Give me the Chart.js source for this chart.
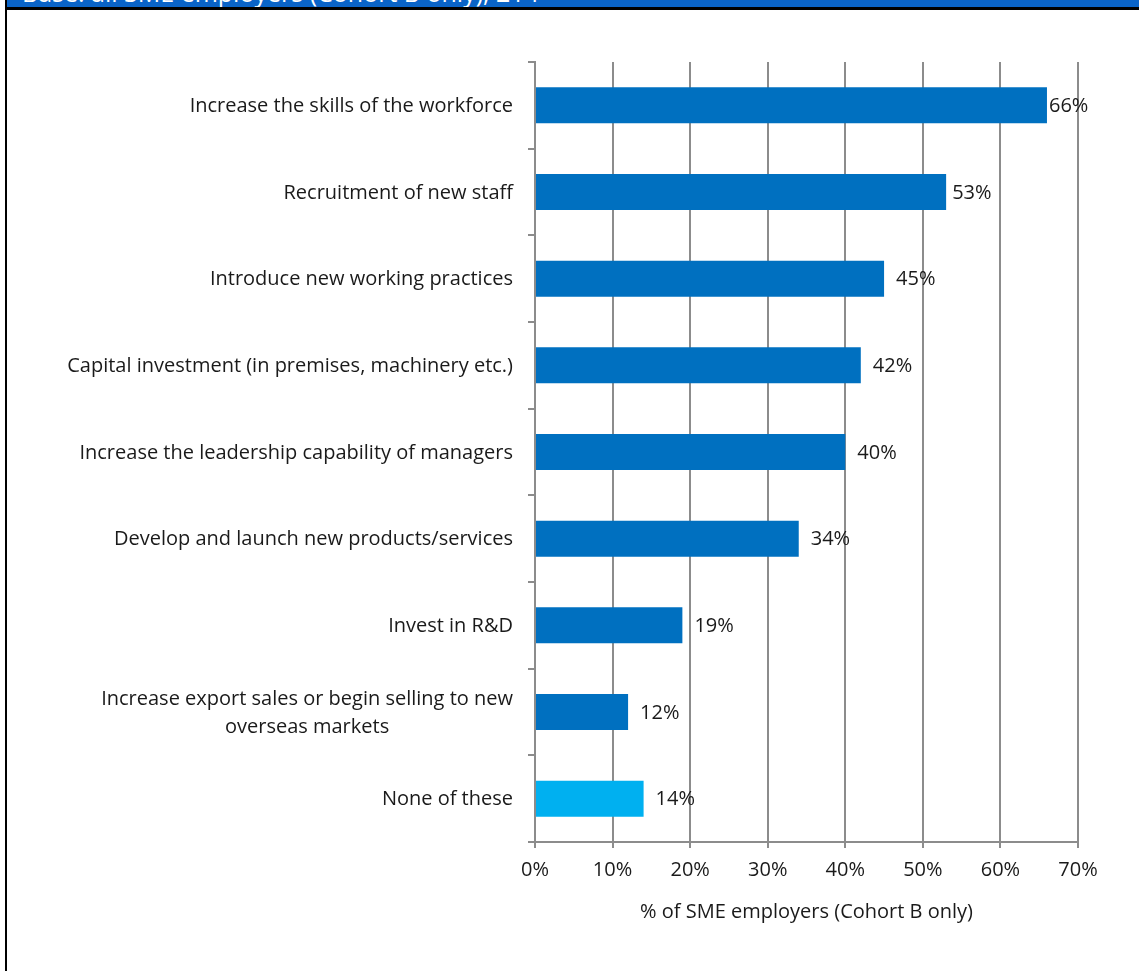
<!DOCTYPE html>
<html lang="en">
<head>
  <meta charset="UTF-8">
  <title>SME employers (Cohort B only) - planned actions</title>
  <script src="https://cdn.jsdelivr.net/npm/chart.js@4.4.0/dist/chart.umd.min.js"></script>
  <style>
    html, body { margin: 0; padding: 0; background: #fff; }
    #page { position: absolute; left: 0; top: 0; width: 1139px; height: 971px; overflow: hidden; }
    #banner { position: absolute; left: 5px; top: 0; right: 0; height: 7px; background: #0a64c8;
              border-bottom: 3px solid #000; overflow: hidden; }
    #banner span { position: absolute; left: 17px; top: -20px; font: 25px "Open Sans", sans-serif;
                   line-height: 25px; color: #fff; white-space: nowrap; }
    #rule { position: absolute; left: 5px; top: 0; width: 2px; height: 971px; background: #000; }
    #myChart { position: absolute; left: 0; top: 0; }
  </style>
</head>
<body>
<div id="page">
  <canvas id="myChart" width="1139" height="971"></canvas>
  <div id="banner"><span>Base: all SME employers (Cohort B only), 214</span></div>
  <div id="rule"></div>
</div>

<script>
const categories = [
  'Increase the skills of the workforce',
  'Recruitment of new staff',
  'Introduce new working practices',
  'Capital investment (in premises, machinery etc.)',
  'Increase the leadership capability of managers',
  'Develop and launch new products/services',
  'Invest in R&D',
  ['Increase export sales or begin selling to new', 'overseas markets'],
  'None of these'
];
const shares = [66, 53, 45, 42, 40, 34, 19, 12, 14];
const xTickLabels = ['0%', '10%', '20%', '30%', '40%', '50%', '60%', '70%'];
const xTitle = '% of SME employers (Cohort B only)';

const dark = '#0070c0';
const light = '#00b0f0';
const gray = '#8c8c8c';
const textColor = '#1a1a1a';
const fontFamily = '"Open Sans"';
const font = { family: fontFamily, size: 20 };
// gap between bar end and its % label
const labelGap = [2, 6, 12, 12, 12, 12, 12, 12, 12];

// category names, right aligned; wrapped names centred on their widest line
const categoryLabels = {
  id: 'categoryLabels',
  afterDraw(chart) {
    const { ctx } = chart;
    const y = chart.scales.y;
    ctx.save();
    ctx.font = '20px ' + fontFamily;
    ctx.fillStyle = textColor;
    ctx.textBaseline = 'middle';
    ctx.textAlign = 'center';
    const right = y.right - 22;
    categories.forEach((label, i) => {
      const lines = Array.isArray(label) ? label : [label];
      const w = Math.max(...lines.map(l => ctx.measureText(l).width));
      const cy = y.getPixelForValue(i);
      lines.forEach((l, k) => {
        ctx.fillText(l, right - w / 2, cy + 1 + (k - (lines.length - 1) / 2) * 28);
      });
    });
    ctx.restore();
  }
};

// % value next to each bar
const valueLabels = {
  id: 'valueLabels',
  afterDatasetsDraw(chart) {
    const { ctx } = chart;
    const meta = chart.getDatasetMeta(0);
    ctx.save();
    ctx.font = '20px ' + fontFamily;
    ctx.fillStyle = textColor;
    ctx.textBaseline = 'middle';
    ctx.textAlign = 'left';
    meta.data.forEach((bar, i) => {
      ctx.fillText(shares[i] + '%', bar.x + labelGap[i], bar.y + 1);
    });
    ctx.restore();
  }
};

function draw() {
  new Chart(document.getElementById('myChart').getContext('2d'), {
    type: 'bar',
    data: {
      labels: categories,
      datasets: [{
        data: shares,
        backgroundColor: categories.map((c, i) => i === categories.length - 1 ? light : dark),
        categoryPercentage: 1,
        barPercentage: 0.415
      }]
    },
    options: {
      indexAxis: 'y',
      responsive: false,
      animation: false,
      layout: { padding: { top: 62, right: 61, left: 0, bottom: 0 } },
      plugins: { legend: { display: false }, tooltip: { enabled: false } },
      scales: {
        x: {
          min: 0,
          max: 70,
          ticks: {
            stepSize: 10,
            padding: 10,
            color: textColor,
            font: font,
            callback: (v, i) => xTickLabels[i]
          },
          grid: { color: gray, lineWidth: 2, tickLength: 6 },
          border: { color: gray, width: 2 },
          title: {
            display: true,
            text: xTitle,
            color: textColor,
            font: font,
            padding: { top: 0, bottom: 47 }
          },
          afterFit: s => { s.height = 129; }
        },
        y: {
          ticks: { display: false },
          grid: { offset: true, drawOnChartArea: false, color: gray, lineWidth: 2, tickLength: 7 },
          border: { color: gray, width: 2 },
          afterFit: s => { s.width = 535; }
        }
      }
    },
    plugins: [categoryLabels, valueLabels]
  });
}

document.fonts.load('20px "Open Sans"').then(draw, draw);
</script>
</body>
</html>
